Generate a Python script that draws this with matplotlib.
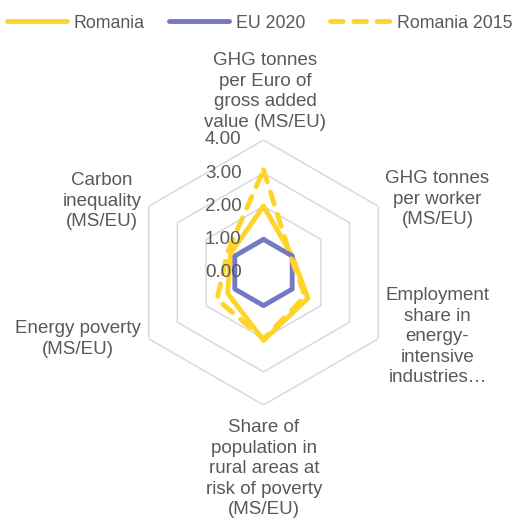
import numpy as np
import matplotlib
matplotlib.use('Agg')
import matplotlib.pyplot as plt

# Radar chart values (MS/EU ratios), clockwise from the top axis
categories = ['GHG tonnes\nper Euro of\ngross added\nvalue (MS/EU)',
              'GHG tonnes\nper worker\n(MS/EU)',
              'Employment\nshare in\nenergy-\nintensive\nindustries\u2026',
              'Share of\npopulation in\nrural areas at\nrisk of poverty\n(MS/EU)',
              'Energy poverty\n(MS/EU)',
              'Carbon\ninequality\n(MS/EU)']
romania = [2.0, 1.0, 1.55, 2.05, 1.25, 1.15]
eu_2020 = [1.0, 1.0, 1.0, 1.0, 1.0, 1.0]
romania_2015 = [3.1, 0.95, 1.45, 2.0, 1.62, 1.25]
ring_values = [0, 1, 2, 3, 4]
ring_labels = ['0.00', '1.00', '2.00', '3.00', '4.00']

W, H = 530, 520
text_col = '#595959'
grid_col = '#d9d9d9'
yellow = '#ffd42a'
blue = '#7479c2'
fs = 13.5

plt.rcParams['font.family'] = ['Liberation Sans', 'DejaVu Sans']

fig = plt.figure(figsize=(W / 100, H / 100), dpi=100)
cx, cy, R = 263.5, 272.5, 132.5
ax = fig.add_axes([(cx - R) / W, (H - cy - R) / H, 2 * R / W, 2 * R / H], projection='polar')
ax.set_theta_offset(np.pi / 2)
ax.set_theta_direction(-1)
ax.set_ylim(0, 4)
ax.grid(False)
ax.spines['polar'].set_visible(False)
ax.set_xticks([])
ax.set_yticks([])
ax.patch.set_alpha(0)

n = len(categories)
angles = np.linspace(0, 2 * np.pi, n, endpoint=False)
closed = np.append(angles, angles[0])

def close(vals):
    return np.append(vals, vals[0])

# hexagon grid
for r in ring_values[1:]:
    ax.plot(closed, [r] * (n + 1), color=grid_col, lw=1.1, zorder=1)

l1, = ax.plot(closed, close(romania), color=yellow, lw=3.5, solid_joinstyle='round',
              solid_capstyle='round', label='Romania', zorder=3)
l2, = ax.plot(closed, close(eu_2020), color=blue, lw=3.5, solid_joinstyle='round',
              solid_capstyle='round', label='EU 2020', zorder=4)
l3, = ax.plot(closed, close(romania_2015), color=yellow, lw=3.5, linestyle=(0, (2.6, 2.2)),
              dash_capstyle='round', dash_joinstyle='round', label='Romania 2015', zorder=5)

for v, lab in zip(ring_values, ring_labels):
    ax.annotate(lab, xy=(0, v), xytext=(-22, 0), textcoords='offset pixels',
                ha='right', va='center', fontsize=fs, color=text_col, zorder=10)

# category labels (pixel positions from the top-left corner)
label_pos = [(265, 127, 'baseline'), (437.5, 170, 'top'), (437.5, 287, 'top'),
             (264, 419, 'top'), (77.5, 320, 'top'), (102, 172, 'top')]
for lab, (x, y, va) in zip(categories, label_pos):
    fig.text(x / W, 1 - y / H, lab, ha='center', va=va, fontsize=fs, color=text_col,
             multialignment='center', linespacing=1.27)

fig.legend(handles=[l1, l2, l3], loc='center', bbox_to_anchor=(259.5 / W, 1 - 23 / H),
           ncol=3, frameon=False, fontsize=12.8, handlelength=3.4, handletextpad=0.38,
           columnspacing=1.35, labelcolor=text_col)

fig.savefig('out.png', dpi=100)
